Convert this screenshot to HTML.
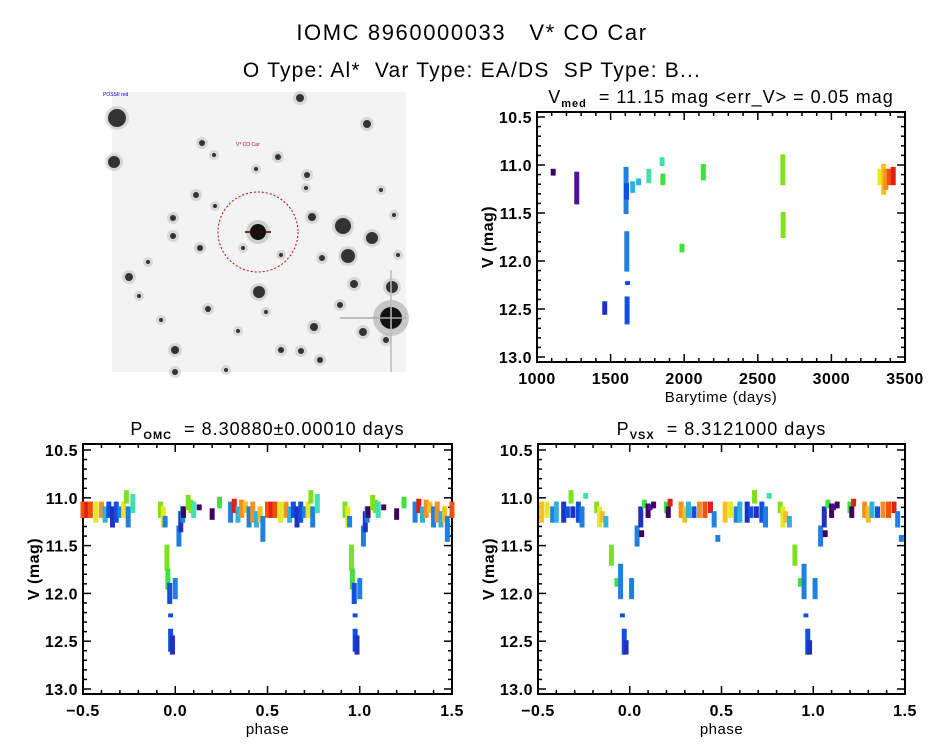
<!DOCTYPE html>
<html><head><meta charset="utf-8"><style>
body{margin:0;background:#fff}
svg{display:block;font-family:"Liberation Sans",sans-serif}
</style></head><body>
<svg id="fig" width="944" height="747" viewBox="0 0 944 747">
<rect width="944" height="747" fill="#fff"/>
<text x="472" y="40" font-size="22" letter-spacing="1.6" text-anchor="middle" xml:space="preserve">IOMC 8960000033   V* CO Car</text>
<text x="472" y="77" font-size="21" letter-spacing="1.2" text-anchor="middle" xml:space="preserve">O Type: Al*  Var Type: EA/DS  SP Type: B...</text>
<g id="img"></g>
<g id="p1"></g>
<g id="p2"></g>
<g id="p3"></g>
</svg>
<script>
// ---- data ----
const palette=["#400060","#5010a0","#2030c0","#1050e0","#2080e0","#30b0e0","#40e0b0","#40e040","#80e020","#e8e820","#f8c020","#f89020","#f05010","#e02010"];
const yTicks=[10.5,11.0,11.5,12.0,12.5,13.0];
const timeTicks=[1000,1500,2000,2500,3000,3500];
const phaseTicks=[-0.5,0.0,0.5,1.0,1.5];
// time series clusters
const tTime=[1110,1270,1460,1605,1610,1615,1612,1608,1650,1690,1760,1850,1855,1985,2130,2670,2672,3330,3355,3370,3395,3420];
const tLo=[11.05,11.08,12.43,11.03,11.7,12.22,12.38,11.2,11.18,11.15,11.05,10.93,11.1,11.83,11.0,10.9,11.5,11.05,11.0,11.05,11.05,11.03];
const tHi=[11.1,11.4,12.55,11.5,12.1,12.24,12.65,11.35,11.28,11.2,11.18,11.0,11.2,11.9,11.15,11.2,11.75,11.2,11.3,11.25,11.2,11.2];
const tCol=[0,1,2,4,4,3,3,3,5,5,6,6,7,7,7,8,8,9,10,11,12,13];
// OMC phase clusters
const oPhase=[0.92,0.935,0.945,0.955,0.96,0.97,0.975,0.975,0.985,0.0,0.02,0.03,0.04,0.045,0.07,0.085,0.1,0.13,0.2,0.24,0.3,0.32,0.34,0.36,0.38,0.4,0.42,0.44,0.46,0.475,0.5,0.52,0.54,0.57,0.6,0.62,0.64,0.66,0.68,0.7,0.72,0.735,0.745,0.77];
const oLo=[11.05,11.1,11.2,11.5,11.75,11.9,12.22,12.38,12.45,11.85,11.3,11.15,11.1,11.1,10.98,11.03,11.05,11.08,11.12,11.0,11.05,11.02,11.1,11.03,11.05,11.1,11.05,11.15,11.1,11.2,11.05,11.05,11.05,11.05,11.05,11.1,11.05,11.1,11.05,11.1,11.05,10.93,11.1,10.97];
const oHi=[11.2,11.3,11.3,11.75,11.95,12.1,12.24,12.6,12.63,12.05,11.5,11.35,11.25,11.2,11.12,11.15,11.2,11.12,11.22,11.1,11.25,11.15,11.25,11.2,11.15,11.3,11.25,11.3,11.25,11.45,11.2,11.2,11.2,11.25,11.2,11.25,11.2,11.3,11.25,11.2,11.2,11.05,11.3,11.15];
const oCol=[8,9,4,8,7,3,3,3,2,4,4,2,4,0,8,8,6,0,0,7,4,13,5,11,10,4,11,5,10,4,12,13,12,9,11,5,3,2,3,4,9,8,4,6];
// VSX phase clusters
const vPhase=[0.52,0.55,0.58,0.6,0.64,0.66,0.68,0.69,0.72,0.74,0.76,0.82,0.835,0.85,0.87,0.9,0.93,0.95,0.96,0.97,0.98,0.01,0.04,0.06,0.065,0.08,0.1,0.11,0.13,0.2,0.21,0.22,0.28,0.3,0.32,0.35,0.38,0.41,0.44,0.46,0.48];
const vLo=[11.05,11.05,11.1,11.05,11.05,11.1,10.93,11.1,11.05,11.1,10.96,11.05,11.1,11.15,11.2,11.5,11.85,11.7,12.22,12.38,12.5,11.85,11.3,11.1,11.35,11.03,11.07,11.08,11.05,11.05,11.1,11.02,11.05,11.1,11.05,11.1,11.05,11.05,11.05,11.15,11.4];
const vHi=[11.25,11.2,11.25,11.25,11.25,11.2,11.05,11.2,11.25,11.3,11.0,11.15,11.3,11.25,11.3,11.7,11.92,12.05,12.24,12.63,12.63,12.05,11.5,11.3,11.4,11.1,11.2,11.12,11.1,11.15,11.2,11.08,11.2,11.25,11.2,11.2,11.2,11.2,11.15,11.3,11.45];
const vCol=[10,9,4,5,2,3,8,2,3,4,6,8,9,10,5,8,7,4,3,3,2,4,4,2,0,7,0,1,0,7,0,13,11,10,5,3,11,12,13,4,4];

const NS="http://www.w3.org/2000/svg";
function el(tag,attrs,parent){const e=document.createElementNS(NS,tag);for(const k in attrs)e.setAttribute(k,attrs[k]);parent.appendChild(e);return e;}

function axes(g,box,xMin,xMax,xT,xMinor,xFmt,xLabel,title,titleSub,titleRest){
  const sx=v=>box.x0+(v-xMin)/(xMax-xMin)*(box.x1-box.x0);
  const sy=v=>box.yA+(v-10.5)/(13.0-10.5)*(box.yB-box.yA);
  const fr=el('rect',{x:box.x0,y:box.y0,width:box.x1-box.x0,height:box.y1-box.y0,fill:'none',stroke:'#000','stroke-width':2},g);
  
  
  for(let k=0;k<=26;k++){const v=10.5+k*0.1;if(v>13.05)break;const y=sy(v);const major=k%5===0;const L=major?8:4;
    el('line',{x1:box.x0,y1:y,x2:box.x0+L,y2:y,stroke:'#000','stroke-width':1.5},g);
    el('line',{x1:box.x1,y1:y,x2:box.x1-L,y2:y,stroke:'#000','stroke-width':1.5},g);}
  yTicks.forEach(v=>{const t=el('text',{x:box.x0-5,y:sy(v)+6,'font-size':16,'font-weight':'bold','letter-spacing':0.5,'text-anchor':'end'},g);t.textContent=v.toFixed(1);
    
    });
  const step=(xT[1]-xT[0])/xMinor;
  for(let v=xMin;v<=xMax+1e-9;v+=step){const x=sx(v);const major=Math.abs(((v-xMin)/(xT[1]-xT[0]))-Math.round((v-xMin)/(xT[1]-xT[0])))<1e-6;const L=major?8:4;
    el('line',{x1:x,y1:box.y1,x2:x,y2:box.y1-L,stroke:'#000','stroke-width':1.5},g);
    el('line',{x1:x,y1:box.y0,x2:x,y2:box.y0+L,stroke:'#000','stroke-width':1.5},g);}
  xT.forEach(v=>{const t=el('text',{x:sx(v),y:box.y1+22,'font-size':16,'font-weight':'bold','letter-spacing':0.5,'text-anchor':'middle'},g);t.textContent=xFmt(v);
    
    });
  const xl=el('text',{x:(box.x0+box.x1)/2,y:box.y1+40,'font-size':15,'letter-spacing':0.5,'text-anchor':'middle'},g);xl.textContent=xLabel;
  
  
  const yl=el('text',{x:0,y:0,'font-size':16,'font-weight':'bold','letter-spacing':0.5,'text-anchor':'middle',transform:`translate(${box.x0-44},${(box.y0+box.y1)/2}) rotate(-90)`},g);yl.textContent='V (mag)';
  
  
  const tt=el('text',{x:(box.x0+box.x1)/2,y:box.y0-9,'font-size':18,'letter-spacing':1,'text-anchor':'middle'},g);
  
  
  tt.innerHTML=`${title}<tspan font-size="11" font-weight="bold" dy="4">${titleSub}</tspan><tspan dy="-4" xml:space="preserve">${titleRest}</tspan>`;
  return {sx,sy};
}
function mark(g,x,y1,y2,c){const r=el('rect',{x:x-2.5,y:Math.min(y1,y2)-1,width:5,height:Math.abs(y2-y1)+2,fill:palette[c]},g);
  
  }

(function(){const g=document.getElementById('p1');
 const box={x0:537,x1:905,y0:112,y1:362,yA:117,yB:357};
 const {sx,sy}=axes(g,box,1000,3500,timeTicks,5,v=>String(v),'Barytime (days)','V','med','  = 11.15 mag &lt;err_V&gt; = 0.05 mag');
 tTime.forEach((t,i)=>mark(g,sx(t),sy(tLo[i]),sy(tHi[i]),tCol[i]));})();
function phasePanel(id,x0,x1,ph,lo,hi,col,sub,rest){const g=document.getElementById(id);
 const box={x0:x0,x1:x1,y0:444,y1:694,yA:450,yB:689};
 const {sx,sy}=axes(g,box,-0.5,1.5,phaseTicks,5,v=>v<0?'\u2212'+Math.abs(v).toFixed(1):v.toFixed(1),'phase','P',sub,rest);
 ph.forEach((p,i)=>{[p-1,p,p+1].forEach(q=>{if(q>=-0.5&&q<=1.5)mark(g,sx(q),sy(lo[i]),sy(hi[i]),col[i]);});});}
phasePanel('p2',83,452,oPhase,oLo,oHi,oCol,'OMC','  = 8.30880\u00b10.00010 days');
phasePanel('p3',538,905,vPhase,vLo,vHi,vCol,'VSX','  = 8.3121000 days');

(function(){const g=document.getElementById('img');
 el('rect',{x:112,y:92,width:294,height:280,fill:'#f3f3f3'},g);
 const stars=[[117,118,9],[114,162,6],[300,98,4],[367,124,4],[307,175,3],[196,195,3],[173,218,3],[312,217,4],[343,226,8],[372,238,6],[348,256,7],[129,277,4],[259,292,6],[354,284,4],[392,287,6],[363,332,4],[314,327,4],[175,350,4],[175,372,3],[281,350,3],[301,351,3],[200,248,3],[208,309,3],[173,236,3],[202,143,3],[214,155,2],[256,169,2],[215,206,2],[306,188,2],[278,157,3],[322,258,3],[340,305,3],[320,360,3],[266,312,2],[238,331,2],[386,340,3],[148,262,2],[243,248,2],[281,255,2],[381,190,2],[394,215,2],[398,255,2],[161,320,2],[139,296,2],[226,370,2]];
 stars.forEach(s=>{el('circle',{cx:s[0],cy:s[1],r:s[2]+3,fill:'#bbb',opacity:0.5},g);el('circle',{cx:s[0],cy:s[1],r:s[2],fill:'#333'},g);});
 el('circle',{cx:391,cy:318,r:18,fill:'#999',opacity:0.5},g);el('circle',{cx:391,cy:318,r:11,fill:'#111'},g);
 el('line',{x1:340,y1:318,x2:406,y2:318,stroke:'#aaa','stroke-width':1.5},g);el('line',{x1:391,y1:270,x2:391,y2:372,stroke:'#bbb','stroke-width':1.5},g);
 el('circle',{cx:258,cy:232,r:12,fill:'#aaa',opacity:0.5},g);el('circle',{cx:258,cy:232,r:8,fill:'#111'},g);
 el('line',{x1:245,y1:232,x2:271,y2:232,stroke:'#400',"stroke-width":1.5},g);
 el('circle',{cx:258,cy:232,r:40,fill:'none',stroke:'#c00','stroke-width':1,'stroke-dasharray':'2 2'},g);
 const t=el('text',{x:236,y:146,'font-size':5,fill:'#c00'},g);t.textContent='V* CO Car';
 const t2=el('text',{x:103,y:96,'font-size':5,fill:'#00c'},g);t2.textContent='POSSII red';
})();
</script>
</body></html>
